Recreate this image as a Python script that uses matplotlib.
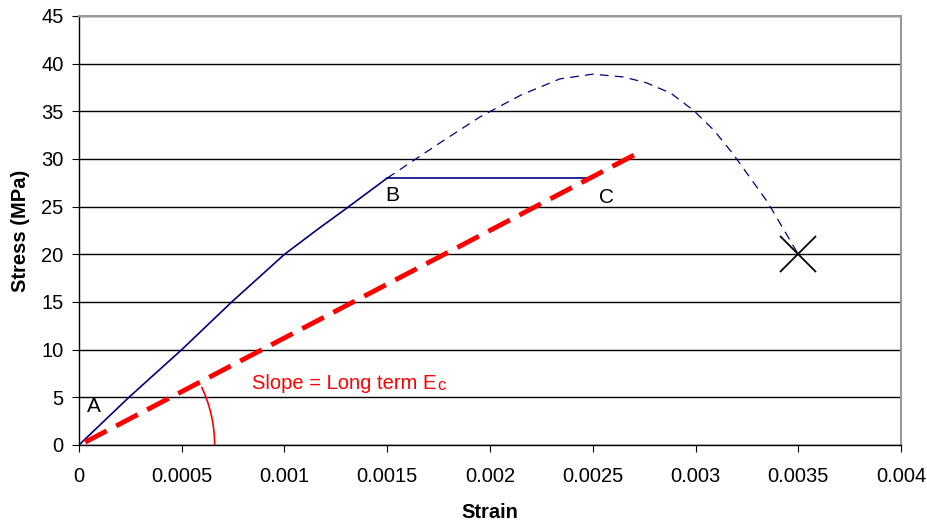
import numpy as np
import matplotlib
matplotlib.use("Agg")
import matplotlib.pyplot as plt

# loading curve (solid) up to point B
load_strain = [0.0, 0.000243, 0.0005, 0.000743, 0.001, 0.00116, 0.0013, 0.0015]
load_stress = [0.0, 5.0, 10.0, 15.0, 20.0, 22.6, 24.8, 28.0]

# creep B -> C
creep_strain = [0.0015, 0.0025]
creep_stress = [28.0, 28.0]

# short term curve beyond B (dashed)
st_strain = [0.0015, 0.00175, 0.00195, 0.00215, 0.00234, 0.0025, 0.00265, 0.00276,
             0.00288, 0.00299, 0.00309, 0.00318, 0.00335, 0.0035]
st_stress = [28.0, 31.6, 34.4, 36.7, 38.4, 38.9, 38.6, 38.0,
             36.9, 35.1, 33.0, 30.6, 25.5, 20.0]

# long term modulus line
lt_strain = [0.00003, 0.0027]
lt_stress = [0.3, 30.4]

fail_strain = [0.0035]
fail_stress = [20.0]

plt.rcParams['font.family'] = ['Liberation Sans', 'DejaVu Sans']

fig = plt.figure(figsize=(9.27, 5.24), dpi=100)
ax = fig.add_axes([0.0852, 0.1508, 0.8868, 0.8187])

ax.set_xlim(0, 0.004)
ax.set_ylim(0, 45)
ax.set_xticks(np.arange(0, 0.00401, 0.0005))
ax.set_xticklabels(['0', '0.0005', '0.001', '0.0015', '0.002', '0.0025', '0.003', '0.0035', '0.004'])
ax.set_yticks(range(0, 46, 5))
ax.yaxis.grid(True, color='black', linewidth=1)
ax.set_axisbelow(True)

for s in ['top', 'right']:
    ax.spines[s].set_color('#999999')
    ax.spines[s].set_linewidth(1.5)
for s in ['left', 'bottom']:
    ax.spines[s].set_color('black')
    ax.spines[s].set_linewidth(1)

ax.tick_params(axis='both', labelsize=14.5, color='black', length=5, direction='out')
ax.tick_params(axis='x', pad=11)
ax.tick_params(axis='y', pad=6)

ax.plot(st_strain, st_stress, color='#000080', linewidth=0.9, linestyle=(0, (7, 5)))
ax.plot(load_strain, load_stress, color='#000080', linewidth=1.2)
ax.plot(creep_strain, creep_stress, color='#000080', linewidth=1.2)
ax.plot(lt_strain, lt_stress, color='#ff0000', linewidth=3.5, linestyle=(0, (5, 2.2)))
ax.plot(fail_strain, fail_stress, marker='x', color='black', markersize=26,
        markeredgewidth=1.3, linestyle='none')

# angle arc for the slope
rx = 0.00066
ry = rx * (822 / 0.004) / (429 / 45)
t = np.linspace(0, np.radians(25), 40)
ax.plot(rx * np.cos(t), ry * np.sin(t), color='#ff0000', linewidth=1.2)

ax.text(0.00004, 3.5, 'A', fontsize=15)
ax.text(0.00149, 25.6, 'B', fontsize=15)
ax.text(0.00253, 25.4, 'C', fontsize=15)
t1 = ax.text(0.00084, 5.9, 'Slope = Long term E', fontsize=14.5, color='#ff0000')
ax.annotate('c', xy=(1, 0), xycoords=t1, xytext=(1, 0), textcoords='offset points',
            fontsize=12, color='#ff0000', va='bottom', ha='left')

ax.set_xlabel('Strain', fontsize=14.5, fontweight='bold', labelpad=12)
ax.set_ylabel('Stress (MPa)', fontsize=14.5, fontweight='bold', labelpad=8)

fig.savefig('out.png', dpi=100)
